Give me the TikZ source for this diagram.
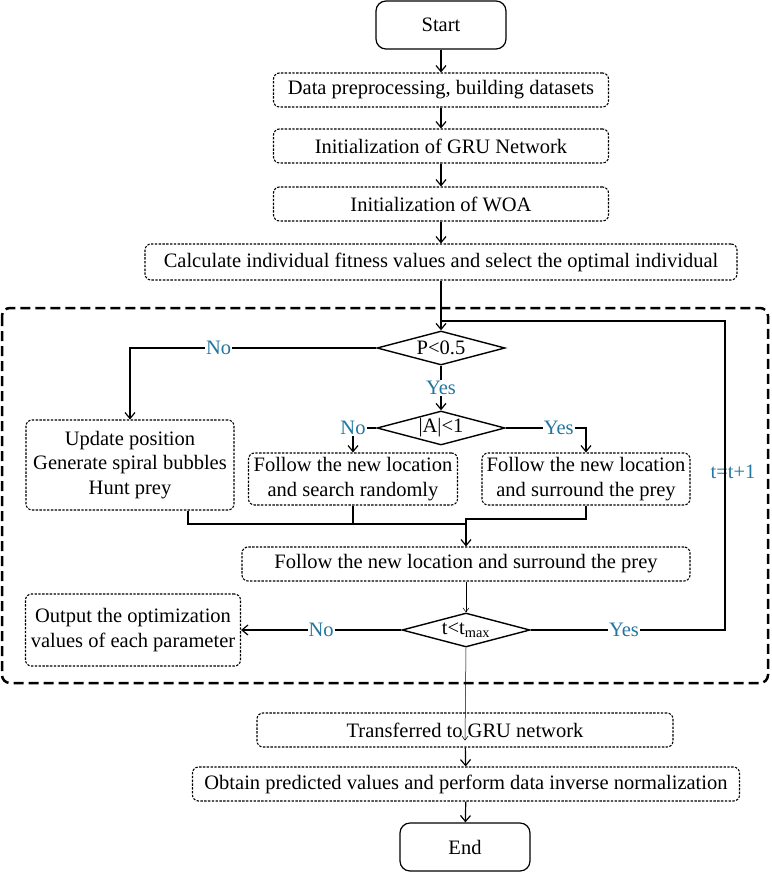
\documentclass[tikz,border=0pt]{standalone}
\usepackage{fontspec}
\setmainfont{Liberation Serif}
\usetikzlibrary{arrows.meta}
\usetikzlibrary{positioning}
\usetikzlibrary{shapes.geometric}

\definecolor{answerblue}{RGB}{35,118,160}

\tikzset{
  terminal/.style = {draw, line width=1.2pt, rounded corners=10pt, minimum width=130pt, minimum height=48pt},
  process/.style  = {draw, line width=1.1pt, dash pattern=on 2.4pt off 1.4pt, rounded corners=6pt, minimum height=34pt, inner sep=0pt, align=center},
  decision/.style = {draw, diamond, line width=1.4pt, aspect=4, inner sep=0pt, minimum width=128pt, minimum height=34pt},
  flow/.style     = {line width=1.2pt, -{Straight Barb[length=6pt,width=10pt]}},
  plain/.style    = {line width=1.2pt},
  answer/.style   = {text=answerblue, fill=white, inner sep=1pt}
}

\begin{document}
\begin{tikzpicture}[x=1pt, y=-1pt, font=\fontsize{20.5}{24.5}\selectfont]
    \useasboundingbox (0,0) rectangle (771,872);

    % main line
    \node[terminal] (start) at (441,25) {Start};
    \node[process, minimum width=335pt] (data) at (441,90) {Data preprocessing, building datasets};
    \node[process, minimum width=335pt] (gru) at (441,146) {Initialization of GRU Network};
    \node[process, minimum width=335pt] (woa) at (441,204) {Initialization of WOA};
    \node[process, minimum width=592pt, minimum height=36pt] (calc) at (441,262) {Calculate individual fitness values and select the optimal individual};

    % WOA loop
    \draw[line width=2.5pt, dash pattern=on 10pt off 5pt, rounded corners=8pt] (2,308) rectangle (768,683);
    \node[decision] (p) at (441,348) {P<0.5};
    \node[decision] (a) at (441,428) {|A|<1};
    \node[process, minimum width=208pt, minimum height=90pt] (spiral) at (130,465) {Update position\\Generate spiral bubbles\\Hunt prey};
    \node[process, minimum width=209pt, minimum height=52pt] (search) at (353,479) {Follow the new location\\and search randomly};
    \node[process, minimum width=208pt, minimum height=52pt] (surround) at (586,479) {Follow the new location\\and surround the prey};
    \node[process, minimum width=448pt] (follow) at (466,564) {Follow the new location and surround the prey};
    \node[decision] (tmax) at (466,630) {t<t\textsubscript{max}};
    \node[process, minimum width=215pt, minimum height=72pt] (output) at (133,630) {Output the optimization\\values of each parameter};
    \node[text=answerblue] (inc) at (733,472) {t=t+1};
    \coordinate (merge) at (466,524);
    \coordinate (merge2) at (466,519);
    \coordinate (loop) at (725,321);

    % after the loop
    \node[process, minimum width=416pt] (gru2) at (465,730) {Transferred to GRU network};
    \node[process, minimum width=547pt] (pred) at (466,784) {Obtain predicted values and perform data inverse normalization};
    \node[terminal] (end) at (465,847) {End};

    \draw[flow] (start) -- (data);
    \draw[flow] (data) -- (gru);
    \draw[flow] (gru) -- (woa);
    \draw[flow] (woa) -- (calc);
    \draw[flow] (calc) -- (p);
    \draw[flow] (p.west) -| node[answer, pos=0.32] {No} (spiral.north);
    \draw[flow] (p) -- node[answer] {Yes} (a);
    \draw[flow] (a.west) -| node[answer, pos=0.5] {No} (search.north);
    \draw[flow] (a.east) -| node[answer, pos=0.33] {Yes} (surround.north);
    \draw[plain] ([xshift=58pt]spiral.south) |- (merge);
    \draw[plain] (search.south) -- (search.south |- merge);
    \draw[flow] (surround.south) |- (merge2) -- (follow.north);
    \draw[line width=0.5pt, -{Straight Barb[length=4pt,width=6pt]}] (follow) -- (tmax);
    \draw[flow] (tmax.west) -- node[answer] {No} (output.east);
    \draw[plain] (tmax.east) -- node[answer, pos=0.48] {Yes} (tmax.east -| loop) -- (loop) -- (p.north |- loop);
    \draw[line width=0.5pt, -{Straight Barb[length=4pt,width=6pt]}] (tmax.south) -- ([yshift=7pt]gru2.south);
    \draw[flow] (gru2) -- (pred);
    \draw[flow] (pred) -- (end);
\end{tikzpicture}
\end{document}
